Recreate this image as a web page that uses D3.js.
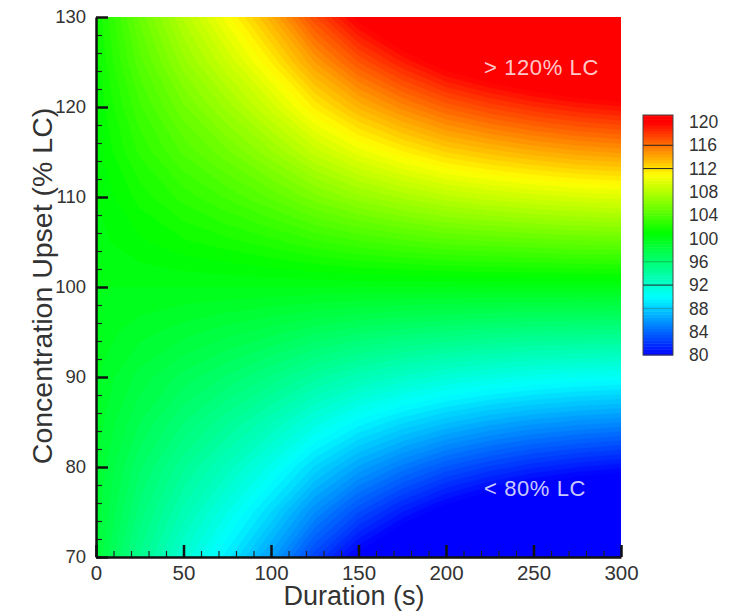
<!DOCTYPE html>
<html>
<head>
<meta charset="utf-8">
<script src="https://cdn.jsdelivr.net/npm/d3@7"></script>
<style>
  body { margin: 0; background: #fff; }
  svg { font-family: "Liberation Sans", Arial, sans-serif; }
</style>
</head>
<body>
<svg id="chart" width="734" height="612"></svg>
<script>
// Grid: columns are durations, rows are concentration upsets (top row = 130)
const durations = [0, 25, 50, 75, 100, 125, 150, 175, 200, 225, 250, 275, 300];
const concentrations = [130, 125, 120, 115, 110, 105, 100, 95, 90, 85, 80, 75, 70];
const upset = [
  [101.5, 105.1, 108.1, 110.8, 113.8, 117.4, 120.4, 122.8, 124.9, 126.4, 127.6, 128.5, 129.1],
  [101.3, 104.3, 106.8, 109.0, 111.5, 114.5, 117.0, 119.0, 120.8, 122.0, 123.0, 123.8, 124.3],
  [101.0, 103.4, 105.4, 107.2, 109.2, 111.6, 113.6, 115.2, 116.6, 117.6, 118.4, 119.0, 119.4],
  [100.8, 102.6, 104.1, 105.4, 106.9, 108.7, 110.2, 111.4, 112.5, 113.2, 113.8, 114.3, 114.6],
  [100.5, 101.7, 102.7, 103.6, 104.6, 105.8, 106.8, 107.6, 108.3, 108.8, 109.2, 109.5, 109.7],
  [100.3, 100.9, 101.4, 101.8, 102.3, 102.9, 103.4, 103.8, 104.2, 104.4, 104.6, 104.8, 104.9],
  [100.0, 100.0, 100.0, 100.0, 100.0, 100.0, 100.0, 100.0, 100.0, 100.0, 100.0, 100.0, 100.0],
  [99.8, 99.2, 98.7, 98.2, 97.7, 97.1, 96.6, 96.2, 95.9, 95.6, 95.4, 95.3, 95.2],
  [99.5, 98.3, 97.3, 96.4, 95.4, 94.2, 93.2, 92.4, 91.7, 91.2, 90.8, 90.5, 90.3],
  [99.3, 97.5, 96.0, 94.6, 93.1, 91.3, 89.8, 88.6, 87.6, 86.8, 86.2, 85.8, 85.5],
  [99.0, 96.6, 94.6, 92.8, 90.8, 88.4, 86.4, 84.8, 83.4, 82.4, 81.6, 81.0, 80.6],
  [98.8, 95.8, 93.3, 91.0, 88.5, 85.5, 83.0, 81.0, 79.3, 78.0, 77.0, 76.3, 75.8],
  [98.5, 94.9, 91.9, 89.2, 86.2, 82.6, 79.6, 77.2, 75.1, 73.6, 72.4, 71.5, 70.9]
];
const xTicks = [0, 50, 100, 150, 200, 250, 300];
const yTicks = [70, 80, 90, 100, 110, 120, 130];
const legendTicks = [80, 84, 88, 92, 96, 100, 104, 108, 112, 116, 120];

const plot = { left: 96, right: 621, top: 17, bottom: 557 };

const svg = d3.select("#chart");

const x = d3.scaleLinear().domain([0, 300]).range([plot.left, plot.right]);
const y = d3.scaleLinear().domain([70, 130]).range([plot.bottom, plot.top]);

const color = d3.scaleLinear()
    .domain([80, 90, 101, 111, 120])
    .range(["#0000ff", "#00ffff", "#00ff00", "#ffff00", "#ff0000"])
    .clamp(true);

// clip
svg.append("defs").append("clipPath").attr("id", "plotClip")
  .append("rect")
    .attr("x", plot.left).attr("y", plot.top)
    .attr("width", plot.right - plot.left).attr("height", plot.bottom - plot.top);

const nx = durations.length, ny = concentrations.length;
const flat = [];
upset.forEach(row => row.forEach(v => flat.push(v)));

const thresholds = d3.range(80, 120.01, 0.5);
const contours = d3.contours().size([nx, ny]).thresholds(thresholds)(flat);

// grid coords -> data -> pixels (value i sits at i + 0.5)
const dStep = durations[1] - durations[0];
const cStep = concentrations[0] - concentrations[1];
const toPixels = d3.geoTransform({
  point: function(gx, gy) {
    this.stream.point(
      x(durations[0] + (gx - 0.5) * dStep),
      y(concentrations[0] - (gy - 0.5) * cStep)
    );
  }
});
const path = d3.geoPath(toPixels);

const field = svg.append("g").attr("clip-path", "url(#plotClip)");

field.append("rect")
    .attr("x", plot.left).attr("y", plot.top)
    .attr("width", plot.right - plot.left).attr("height", plot.bottom - plot.top)
    .attr("fill", color(80));

field.selectAll("path")
  .data(contours)
  .join("path")
    .attr("d", path)
    .attr("fill", d => color(Math.min(d.value + 0.25, 120)))
    .attr("stroke", d => color(Math.min(d.value + 0.25, 120)))
    .attr("stroke-width", 0.5);

// annotations
svg.append("text")
    .attr("x", 484).attr("y", 67)
    .attr("dy", "0.35em")
    .attr("font-size", 22)
    .attr("letter-spacing", 0.6)
    .attr("fill", "#fff").attr("fill-opacity", 0.8)
    .text("> 120% LC");

svg.append("text")
    .attr("x", 484).attr("y", 488)
    .attr("dy", "0.35em")
    .attr("font-size", 22)
    .attr("letter-spacing", 0.6)
    .attr("fill", "#fff").attr("fill-opacity", 0.8)
    .text("< 80% LC");

// axes
const yMinor = d3.range(70, 131, 2).filter(v => v % 10 !== 0);
const xMinor = d3.range(0, 301, 10).filter(v => v % 50 !== 0);

svg.append("g")
    .attr("transform", `translate(${plot.left},0)`)
    .call(d3.axisLeft(y).tickValues(yMinor).tickSize(-6).tickSizeOuter(0).tickFormat(""))
    .call(g => g.select(".domain").remove())
    .call(g => g.selectAll("line").attr("stroke", "#222").attr("stroke-width", 1.2));

svg.append("g")
    .attr("transform", `translate(0,${plot.bottom})`)
    .call(d3.axisBottom(x).tickValues(xMinor).tickSize(-6).tickSizeOuter(0).tickFormat(""))
    .call(g => g.select(".domain").remove())
    .call(g => g.selectAll("line").attr("stroke", "#222").attr("stroke-width", 1.2));

const yAxis = svg.append("g")
    .attr("transform", `translate(${plot.left},0)`)
    .call(d3.axisLeft(y).tickValues(yTicks).tickSize(-12).tickSizeOuter(0).tickPadding(10));
yAxis.selectAll("line").attr("stroke", "#111").attr("stroke-width", 2.5);
yAxis.select(".domain").attr("stroke", "#111").attr("stroke-width", 2.5);
yAxis.selectAll("text")
    .attr("font-size", 18.5)
    .attr("font-family", "Liberation Sans, Arial, sans-serif")
    .attr("fill", "#333");

const xAxis = svg.append("g")
    .attr("transform", `translate(0,${plot.bottom})`)
    .call(d3.axisBottom(x).tickValues(xTicks).tickSize(-12).tickSizeOuter(0).tickPadding(8));
xAxis.selectAll("line").attr("stroke", "#111").attr("stroke-width", 2.5);
xAxis.select(".domain").attr("stroke", "#111").attr("stroke-width", 2.5);
xAxis.selectAll("text")
    .attr("font-size", 20.5)
    .attr("font-family", "Liberation Sans, Arial, sans-serif")
    .attr("fill", "#333");

// axis titles
svg.append("text")
    .attr("x", 354).attr("y", 596)
    .attr("dy", "0.35em")
    .attr("text-anchor", "middle")
    .attr("font-size", 27)
    .attr("fill", "#333")
    .text("Duration (s)");

svg.append("text")
    .attr("transform", "translate(42,286) rotate(-90)")
    .attr("dy", "0.35em")
    .attr("text-anchor", "middle")
    .attr("font-size", 28.5)
    .attr("fill", "#333")
    .text("Concentration Upset (% LC)");

// colour legend
const cb = { x: 643, w: 30 };
const cbY = d3.scaleLinear().domain([80, 121.2]).range([355, 115]);
const legend = svg.append("g");

legend.selectAll("rect.band")
  .data(d3.range(80, 121.2, 0.5))
  .join("rect")
    .attr("class", "band")
    .attr("x", cb.x)
    .attr("y", d => cbY(Math.min(d + 0.5, 121.2)))
    .attr("width", cb.w)
    .attr("height", d => cbY(d) - cbY(Math.min(d + 0.5, 121.2)) + 0.5)
    .attr("fill", d => color(Math.min(d + 0.25, 120)));

legend.selectAll("line.level")
  .data([116, 112, 92])
  .join("line")
    .attr("class", "level")
    .attr("x1", cb.x).attr("x2", cb.x + cb.w)
    .attr("y1", d => cbY(d)).attr("y2", d => cbY(d))
    .attr("stroke", "#222").attr("stroke-width", 1);

legend.selectAll("line.faint")
  .data([96, 88])
  .join("line")
    .attr("class", "faint")
    .attr("x1", cb.x).attr("x2", cb.x + cb.w)
    .attr("y1", d => cbY(d)).attr("y2", d => cbY(d))
    .attr("stroke", "#222").attr("stroke-opacity", 0.3).attr("stroke-width", 1);

legend.append("rect")
    .attr("x", cb.x).attr("y", cbY(121.2))
    .attr("width", cb.w).attr("height", cbY(80) - cbY(121.2))
    .attr("fill", "none").attr("stroke", "#444").attr("stroke-width", 1);

legend.selectAll("text")
  .data(legendTicks)
  .join("text")
    .attr("x", 689)
    .attr("y", d => cbY(d))
    .attr("dy", "0.35em")
    .attr("font-size", 17.5)
    .attr("fill", "#333")
    .text(d => d);
</script>
</body>
</html>
